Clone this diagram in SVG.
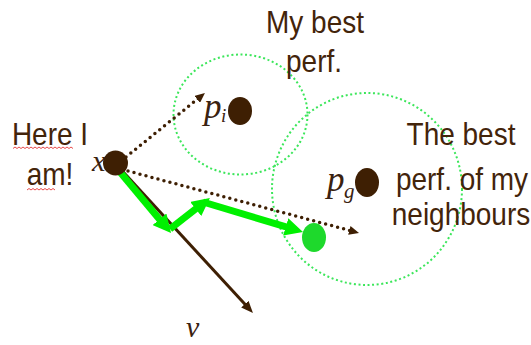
<svg xmlns="http://www.w3.org/2000/svg" width="531" height="345" viewBox="0 0 531 345">
<style>
.lbl{font-family:"Liberation Sans",Arial,sans-serif;font-size:28px;fill:#43240a;text-anchor:middle}
.math{font-family:"Liberation Serif","Times New Roman",serif;font-style:italic;fill:#3a2210}
.zone{fill:none;stroke:#3be65a;stroke-width:2;stroke-dasharray:2 2.6}
.dot{fill:#3e1f03}
.dotted{fill:none;stroke:#3e1f03;stroke-width:3.5;stroke-linecap:round;stroke-dasharray:0 6.2}
.vel{fill:none;stroke:#3e1f03;stroke-width:3}
.move{fill:none;stroke:#00f000;stroke-width:7}
.squig{fill:none;stroke:#e84a4a;stroke-width:1}
</style>
<defs>
<marker id="ag" markerUnits="userSpaceOnUse" markerWidth="18" markerHeight="18" viewBox="0 0 18 18" refX="10" refY="9" orient="auto"><path d="M0,0 L18,9 L0,18 z" fill="#00f000"/></marker>
<marker id="ab" markerUnits="userSpaceOnUse" markerWidth="10" markerHeight="9" viewBox="0 0 10 9" refX="4" refY="4.5" orient="auto"><path d="M0,0 L10,4.5 L0,9 z" fill="#3e1f03"/></marker>
<marker id="av" markerUnits="userSpaceOnUse" markerWidth="12" markerHeight="10" viewBox="0 0 12 10" refX="6" refY="5" orient="auto"><path d="M0,0 L12,5 L0,10 z" fill="#3e1f03"/></marker>
</defs>

<g id="zone-pi"><ellipse class="zone" cx="240.5" cy="114.5" rx="67" ry="60"/></g>
<g id="zone-pg"><ellipse class="zone" cx="367" cy="189" rx="95" ry="96"/></g>

<g id="connectors">
<path class="dotted" d="M126,157 L200.3,96.8" marker-end="url(#ab)"/>
<path class="dotted" d="M128,171 L353.2,231.4" marker-end="url(#ab)"/>
<path class="vel" d="M115,163 L248.9,308.6" marker-end="url(#av)"/>
<path class="move" d="M120,172 L165.9,226.9" marker-end="url(#ag)"/>
<path class="move" d="M170,229 L203.6,202.8" marker-end="url(#ag)"/>
<path class="move" d="M203,202 L295.3,229.7" marker-end="url(#ag)"/>
</g>

<g id="node-x">
<circle class="dot" cx="115.5" cy="163" r="12.5"/>
<text class="math" x="92" y="171" font-size="30">x</text>
</g>
<g id="node-pi">
<ellipse class="dot" cx="240" cy="111" rx="12" ry="14"/>
<text class="math" x="204" y="118" font-size="35">p</text>
<text class="math" x="221" y="122" font-size="19">i</text>
</g>
<g id="node-pg">
<ellipse class="dot" cx="367" cy="182.5" rx="12" ry="14.5"/>
<text class="math" x="327" y="191" font-size="35">p</text>
<text class="math" x="344" y="198" font-size="21">g</text>
</g>
<g id="node-new">
<ellipse cx="314" cy="237.5" rx="12" ry="14.5" fill="#1ed92c"/>
</g>
<g id="label-v">
<text class="math" x="186" y="337" font-size="30">v</text>
</g>

<g id="label-here">
<text class="lbl" transform="translate(50,145) scale(1,1.15)">Here I</text>
<text class="lbl" transform="translate(50,185) scale(1,1.15)">am!</text>
<path class="squig" d="M13,148.5 l2,-1.5 2,1.5 2,-1.5 2,1.5 2,-1.5 2,1.5 2,-1.5 2,1.5 2,-1.5 2,1.5 2,-1.5 2,1.5 2,-1.5 2,1.5 2,-1.5 2,1.5 2,-1.5 2,1.5 2,-1.5 2,1.5 2,-1.5 2,1.5 2,-1.5 2,1.5 2,-1.5 2,1.5 2,-1.5 2,1.5 2,-1.5 2,1.5"/>
<path class="squig" d="M27,190 l2,-1.5 2,1.5 2,-1.5 2,1.5 2,-1.5 2,1.5 2,-1.5 2,1.5 2,-1.5 2,1.5 2,-1.5 2,1.5 2,-1.5 2,1.5"/>
</g>
<g id="label-mybest">
<text class="lbl" transform="translate(315,33) scale(1,1.15)">My best</text>
<text class="lbl" transform="translate(314,72) scale(1,1.15)">perf.</text>
</g>
<g id="label-neigh">
<text class="lbl" transform="translate(461,145) scale(1,1.15)">The best</text>
<text class="lbl" transform="translate(462,190) scale(1,1.15)">perf. of my</text>
<text class="lbl" transform="translate(461,225) scale(1,1.15)">neighbours</text>
</g>
</svg>
